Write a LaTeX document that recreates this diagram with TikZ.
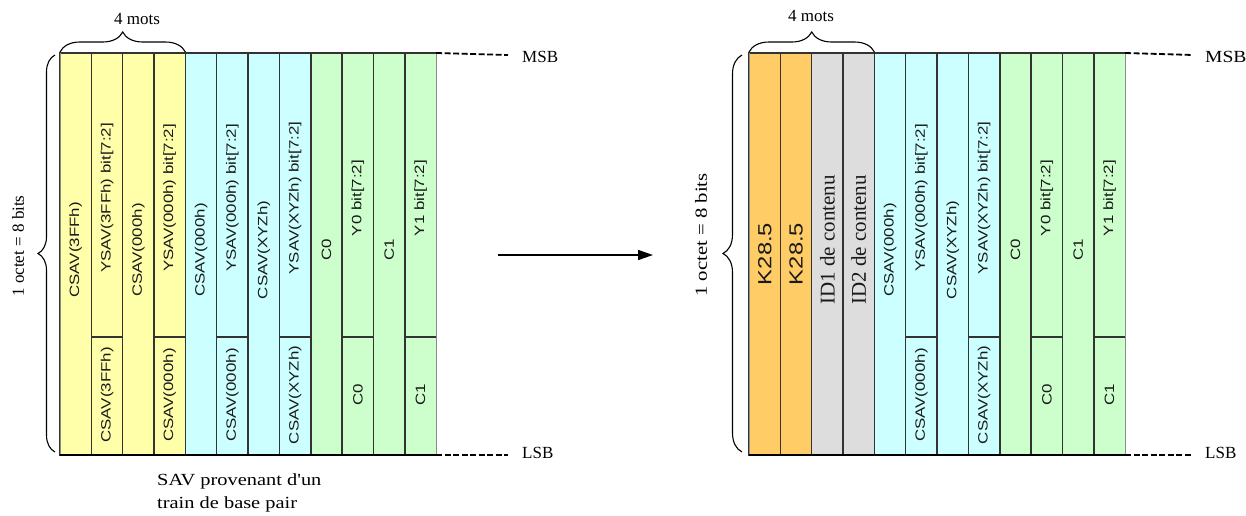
\documentclass[tikz,border=0pt]{standalone}
\usepackage{fontspec}
\setmainfont{Liberation Serif}
\setsansfont{Liberation Sans}
\usetikzlibrary{decorations.pathreplacing,arrows.meta,calc}
\definecolor{cyel}{HTML}{FFFFAA}
\definecolor{ccya}{HTML}{CCFFFF}
\definecolor{cgrn}{HTML}{CCFFCC}
\definecolor{cora}{HTML}{FFCC66}
\definecolor{cgry}{HTML}{DDDDDD}
\newcommand\stx[2][1.25]{\scalebox{#1}[1]{#2}}
\newcommand\fcol[5][250]{% y of text, name, left x, fill, text
  \node[cell, fill=#4, minimum height=402pt] (#2) at (#3,53) {};
  \node[lab] (#2t) at (#3+15.7,#1) {\stx{#5}};}
\newcommand\scol[5]{% name, left x, fill, top text, bottom text
  \node[cell, fill=#3, minimum height=284pt] (#1a) at (#2,53) {};
  \node[cell, fill=#3, minimum height=118pt] (#1b) at (#2,337) {};
  \node[lab] (#1at) at (#2+15.7,198) {\stx{#4}};
  \node[lab] (#1bt) at (#2+15.7,395) {\stx{#5}};}
\begin{document}
\begin{tikzpicture}[x=1pt,y=-1pt,
  cell/.style={draw=black!80, line width=1.4pt, minimum width=31.35pt, inner sep=0pt, outer sep=0pt, anchor=north west},
  lab/.style={rotate=90, font=\sffamily\fontsize{13.5}{13.5}\selectfont, text=black!90, inner sep=0pt},
  srf/.style={font=\fontsize{17}{17}\selectfont, inner sep=0pt},
  brc/.style={decorate, decoration={brace, amplitude=#1}, line width=1.1pt},
  dsh/.style={line width=1.8pt, dash pattern=on 6pt off 2.5pt},
  edge/.style={draw=black!45, line width=1pt}]
\clip (0,0) rectangle (1246,515);
% ---------------- left diagram ----------------
\fcol{L1}{60}{cyel}{CSAV(3FFh)}
\scol{L2}{60+31.35*1}{cyel}{YSAV(3FFh) bit[7:2]}{CSAV(3FFh)}
\fcol{L3}{60+31.35*2}{cyel}{CSAV(000h)}
\scol{L4}{60+31.35*3}{cyel}{YSAV(000h) bit[7:2]}{CSAV(000h)}
\fcol{L5}{60+31.35*4}{ccya}{CSAV(000h)}
\scol{L6}{60+31.35*5}{ccya}{YSAV(000h) bit[7:2]}{CSAV(000h)}
\fcol{L7}{60+31.35*6}{ccya}{CSAV(XYZh)}
\scol{L8}{60+31.35*7}{ccya}{YSAV(XYZh) bit[7:2]}{CSAV(XYZh)}
\fcol{L9}{60+31.35*8}{cgrn}{C0}
\scol{L10}{60+31.35*9}{cgrn}{Y0 bit[7:2]}{C0}
\fcol{L11}{60+31.35*10}{cgrn}{C1}
\scol{L12}{60+31.35*11}{cgrn}{Y1 bit[7:2]}{C1}
\draw[edge] (L1.south west) -- (L1.north west);
\draw[edge] (L12b.south east) -- (L12a.north east);
\draw[line width=2.6pt] (L1.south west) -- (L12b.south east);
\draw[brc=20pt] ([yshift=1pt]L1.north west) -- ([yshift=1pt]L4a.north east);
\node[srf] (motsL) at (137,19) {4 mots};
\draw[brc=17pt] ([xshift=-5pt,yshift=3pt]L1.south west) -- ([xshift=-5pt,yshift=-2pt]L1.north west);
\node[srf, rotate=90] (octL) at (18,246) {1 octet = 8 bits};
\coordinate (msbLe) at (508,55);
\coordinate (lsbLe) at (508,455);
\draw[dsh] (L12a.north east) -- (msbLe);
\draw[dsh] (L12b.south east) -- (lsbLe);
\node[srf, anchor=west] (msbL) at (522,57) {MSB};
\node[srf, anchor=west] (lsbL) at (522,453) {LSB};
\node[srf, anchor=north west, align=left, font=\fontsize{17}{23}\selectfont] (cap) at (157,473) {\stx[1.2]{SAV provenant d\textquotesingle un}\\\stx[1.2]{train de base pair}};
% ---------------- arrow ----------------
\coordinate (arS) at (498,255);
\coordinate (arE) at (653,255);
\draw[line width=1.5pt, -{Triangle[length=15pt,width=10pt]}] (arS) -- (arE);
% ---------------- right diagram ----------------
\fcol[254]{R1}{749}{cora}{\fontsize{19}{19}\selectfont K28.5}
\fcol[254]{R2}{749+31.35*1}{cora}{\fontsize{19}{19}\selectfont K28.5}
\fcol[240]{R3}{749+31.35*2}{cgry}{\rmfamily\fontsize{21}{21}\selectfont\scalebox{0.8}[1]{ID1 de contenu}}
\fcol[240]{R4}{749+31.35*3}{cgry}{\rmfamily\fontsize{21}{21}\selectfont\scalebox{0.8}[1]{ID2 de contenu}}
\fcol{R5}{749+31.35*4}{ccya}{CSAV(000h)}
\scol{R6}{749+31.35*5}{ccya}{YSAV(000h) bit[7:2]}{CSAV(000h)}
\fcol{R7}{749+31.35*6}{ccya}{CSAV(XYZh)}
\scol{R8}{749+31.35*7}{ccya}{YSAV(XYZh) bit[7:2]}{CSAV(XYZh)}
\fcol{R9}{749+31.35*8}{cgrn}{C0}
\scol{R10}{749+31.35*9}{cgrn}{Y0 bit[7:2]}{C0}
\fcol{R11}{749+31.35*10}{cgrn}{C1}
\scol{R12}{749+31.35*11}{cgrn}{Y1 bit[7:2]}{C1}
\draw[edge] (R1.south west) -- (R1.north west);
\draw[edge] (R12b.south east) -- (R12a.north east);
\draw[line width=2.6pt] (R1.south west) -- (R12b.south east);
\draw[brc=20pt] ([yshift=1pt]R1.north west) -- ([yshift=1pt]R4.north east);
\node[srf] (motsR) at (811,16) {4 mots};
\draw[brc=19pt] ([xshift=-7pt,yshift=3pt]R1.south west) -- ([xshift=-7pt,yshift=-2pt]R1.north west);
\node[srf, rotate=90] (octR) at (701,235) {\stx[1.22]{1 octet = 8 bits}};
\coordinate (msbRe) at (1193,55);
\coordinate (lsbRe) at (1193,455);
\draw[dsh] (R12a.north east) -- (msbRe);
\draw[dsh] (R12b.south east) -- (lsbRe);
\node[srf, anchor=west] (msbR) at (1205,57) {\stx[1.15]{MSB}};
\node[srf, anchor=west] (lsbR) at (1205,453) {LSB};
\end{tikzpicture}
\end{document}
